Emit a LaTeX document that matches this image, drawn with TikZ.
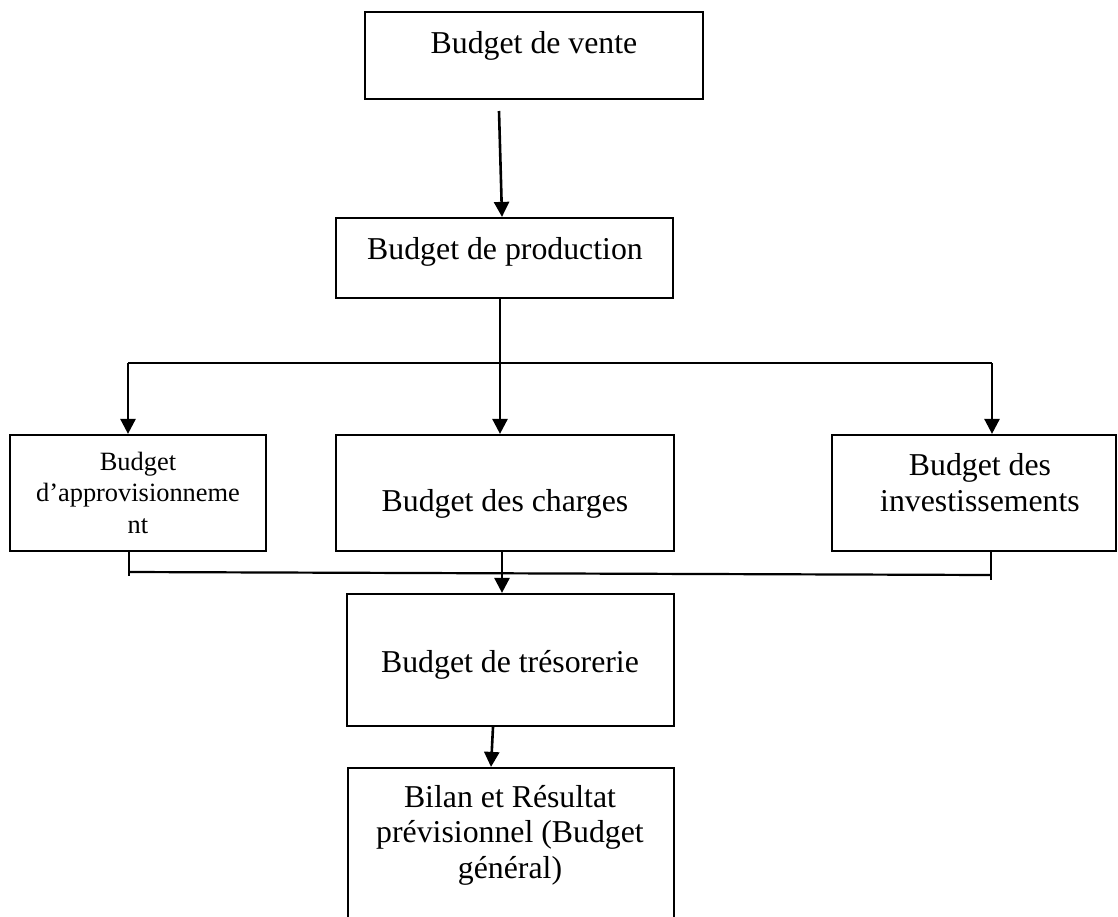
\documentclass[tikz,border=0pt]{standalone}
\usepackage{fontspec}
\setmainfont{Liberation Serif}
\usetikzlibrary{arrows.meta}
\begin{document}
\begin{tikzpicture}[x=1pt,y=-1pt,
  box/.style={draw, line width=2.2pt, inner sep=0pt},
  lbl/.style={anchor=base, align=center, inner sep=0pt,
    font=\fontsize{31.8}{35.5}\selectfont},
  smalllbl/.style={lbl, font=\fontsize{26.4}{31.5}\selectfont},
  arr/.style={line width=2.6pt, -{Triangle[width=15pt,length=15pt]}},
  ln/.style={line width=2.2pt}]
\clip (0,0) rectangle (1118,916);

% boxes
\node[box, minimum width=338pt, minimum height=87pt]  (vente)   at (534,55.5) {};
\node[box, minimum width=337pt, minimum height=80pt]  (prod)    at (504.5,258) {};
\node[box, minimum width=256pt, minimum height=116pt] (appro)   at (138,493) {};
\node[box, minimum width=338pt, minimum height=116pt] (charges) at (505,493) {};
\node[box, minimum width=284pt, minimum height=116pt] (invest)  at (974,493) {};
\node[box, minimum width=327pt, minimum height=132pt] (treso)   at (510.5,660) {};
\node[box, minimum width=326pt, minimum height=168pt] (bilan)   at (511,852) {};

% texts (multi-line labels sit on the baseline of their last line)
\node[lbl] (vente-t)   at (534,53)  {Budget de vente};
\node[lbl] (prod-t)    at (505,259) {Budget de production};
\node[smalllbl] (appro-t) at (138,533) {Budget\\d’approvisionneme\\nt};
\node[lbl] (charges-t) at (505,511) {Budget des charges};
\node[lbl] (invest-t)  at (980,511) {Budget des\\investissements};
\node[lbl] (treso-t)   at (510,672) {Budget de trésorerie};
\node[lbl] (bilan-t)   at (510,878) {Bilan et Résultat\\prévisionnel (Budget\\général)};

% sales -> production
\coordinate (v-out) at (499,111);
\draw[arr] (v-out) -- ([xshift=-2.5pt]prod.north);

% production splits into three budgets
\coordinate (split)   at (500,363);
\coordinate (split-l) at (128,363);
\coordinate (split-r) at (992,363);
\draw[ln] ([xshift=-4.5pt]prod.south) -- (split);
\draw[ln] (split-l) -- (split-r);
\draw[arr] (split-l) -- (appro.north -| split-l);
\draw[arr] (split)   -- (charges.north -| split);
\draw[arr] (split-r) -- (invest.north -| split-r);

% three budgets join towards treasury
\coordinate (m-l) at (129,576);
\coordinate (m-r) at (991,580);
\coordinate (j-l) at (129,572);
\coordinate (j-r) at (991,575);
\draw[ln] (appro.south -| m-l) -- (m-l);
\draw[ln] (invest.south -| m-r) -- (m-r);
\draw[ln] (j-l) -- (j-r);
\draw[arr] ([xshift=-3pt]charges.south) -- ([xshift=-8.5pt]treso.north);

% treasury -> forecast balance sheet
\draw[arr] ([xshift=-17.5pt]treso.south) -- ([xshift=-20pt]bilan.north);
\end{tikzpicture}
\end{document}
